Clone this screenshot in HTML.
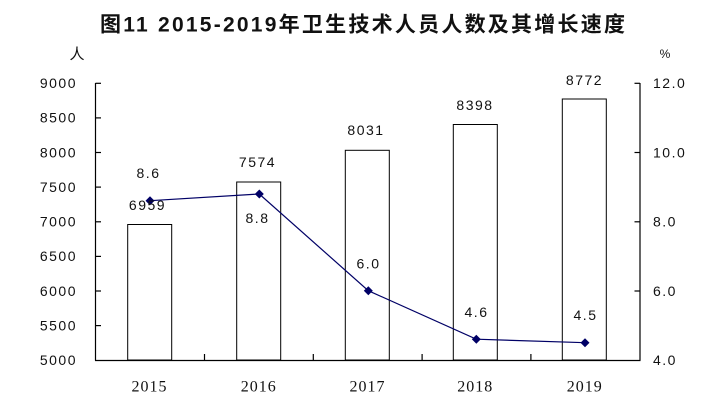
<!DOCTYPE html>
<html>
<head>
<meta charset="utf-8">
<style>
  html, body { margin:0; padding:0; background:#fff; }
  body { width:726px; height:414px; overflow:hidden; }
  svg { display:block; }
  .n { font-family:"Liberation Sans", Arial, sans-serif; font-size:14px; fill:#111; letter-spacing:1.5px; }
  .x { font-family:"Liberation Serif", "Times New Roman", serif; font-size:16px; fill:#111; letter-spacing:1px; }
</style>
</head>
<body>
<svg width="726" height="414" viewBox="0 0 726 414" xmlns="http://www.w3.org/2000/svg">
  <rect width="726" height="414" fill="#fff"/>
  <!-- Title -->
  <text x="100" y="31.5" textLength="525" lengthAdjust="spacing" font-family="'Liberation Sans', 'Noto Sans CJK SC', sans-serif" font-size="21" font-weight="bold" fill="#111">图11 2015-2019年卫生技术人员人数及其增长速度</text>

  <!-- unit labels -->
  <text x="77" y="59" text-anchor="middle" font-family="'Liberation Sans', 'Noto Sans CJK SC', sans-serif" font-size="15" fill="#111">人</text>
  <text x="665" y="58" text-anchor="middle" font-family="'Liberation Sans', sans-serif" font-size="12" fill="#111">%</text>

  <!-- Bars -->
  <g fill="#fff" stroke="#000" stroke-width="1">
    <rect x="127.7" y="224.5" width="44" height="135.5"/>
    <rect x="236.7" y="182" width="44" height="178"/>
    <rect x="345.3" y="150.3" width="44" height="209.7"/>
    <rect x="453.3" y="124.5" width="44" height="235.5"/>
    <rect x="562.3" y="99" width="44" height="261"/>
  </g>

  <!-- Axes -->
  <g stroke="#000" stroke-width="1.2" fill="none">
    <line x1="95.5" y1="83" x2="95.5" y2="360.5"/>
    <line x1="640" y1="83" x2="640" y2="360.5"/>
    <line x1="95" y1="360.5" x2="640.5" y2="360.5"/>
    <!-- left ticks (inward) -->
    <line x1="95.5" y1="83.3" x2="101" y2="83.3"/>
    <line x1="95.5" y1="117.9" x2="101" y2="117.9"/>
    <line x1="95.5" y1="152.5" x2="101" y2="152.5"/>
    <line x1="95.5" y1="187.1" x2="101" y2="187.1"/>
    <line x1="95.5" y1="221.8" x2="101" y2="221.8"/>
    <line x1="95.5" y1="256.4" x2="101" y2="256.4"/>
    <line x1="95.5" y1="291" x2="101" y2="291"/>
    <line x1="95.5" y1="325.6" x2="101" y2="325.6"/>
    <!-- right ticks (inward) -->
    <line x1="634.5" y1="83.3" x2="640" y2="83.3"/>
    <line x1="634.5" y1="152.5" x2="640" y2="152.5"/>
    <line x1="634.5" y1="221.8" x2="640" y2="221.8"/>
    <line x1="634.5" y1="291" x2="640" y2="291"/>
    <!-- category ticks -->
    <line x1="204.5" y1="354" x2="204.5" y2="360.5"/>
    <line x1="313.3" y1="354" x2="313.3" y2="360.5"/>
    <line x1="422.1" y1="354" x2="422.1" y2="360.5"/>
    <line x1="530.9" y1="354" x2="530.9" y2="360.5"/>
  </g>

  <!-- Left axis labels -->
  <g class="n" text-anchor="end">
    <text x="77" y="88">9000</text>
    <text x="77" y="122.6">8500</text>
    <text x="77" y="157.3">8000</text>
    <text x="77" y="191.9">7500</text>
    <text x="77" y="226.5">7000</text>
    <text x="77" y="261.1">6500</text>
    <text x="77" y="295.8">6000</text>
    <text x="77" y="330.4">5500</text>
    <text x="77" y="365">5000</text>
  </g>

  <!-- Right axis labels -->
  <g class="n">
    <text x="653" y="88">12.0</text>
    <text x="653" y="157.3">10.0</text>
    <text x="653" y="226.5">8.0</text>
    <text x="653" y="295.8">6.0</text>
    <text x="653" y="365">4.0</text>
  </g>

  <!-- X labels -->
  <g class="x" text-anchor="middle">
    <text x="149.5" y="391.5">2015</text>
    <text x="258.8" y="391.5">2016</text>
    <text x="367.5" y="391.5">2017</text>
    <text x="475.3" y="391.5">2018</text>
    <text x="584.7" y="391.5">2019</text>
  </g>

  <!-- Line series -->
  <polyline points="150,200.7 259.3,194 368.3,290.7 476.3,339.2 585,342.7" fill="none" stroke="#000066" stroke-width="1.2"/>
  <g fill="#000066">
    <polygon points="150,196.2 154.5,200.7 150,205.2 145.5,200.7"/>
    <polygon points="259.3,189.5 263.8,194 259.3,198.5 254.8,194"/>
    <polygon points="368.3,286.2 372.8,290.7 368.3,295.2 363.8,290.7"/>
    <polygon points="476.3,334.7 480.8,339.2 476.3,343.7 471.8,339.2"/>
    <polygon points="585,338.2 589.5,342.7 585,347.2 580.5,342.7"/>
  </g>

  <!-- Data labels -->
  <g class="n" text-anchor="middle">
    <text x="148.5" y="178">8.6</text>
    <text x="147.5" y="210">6959</text>
    <text x="257.5" y="167">7574</text>
    <text x="257.5" y="223">8.8</text>
    <text x="366" y="135">8031</text>
    <text x="368.5" y="268.5">6.0</text>
    <text x="475" y="110">8398</text>
    <text x="476.5" y="317">4.6</text>
    <text x="584.5" y="85">8772</text>
    <text x="585.5" y="320">4.5</text>
  </g>
</svg>
</body>
</html>
